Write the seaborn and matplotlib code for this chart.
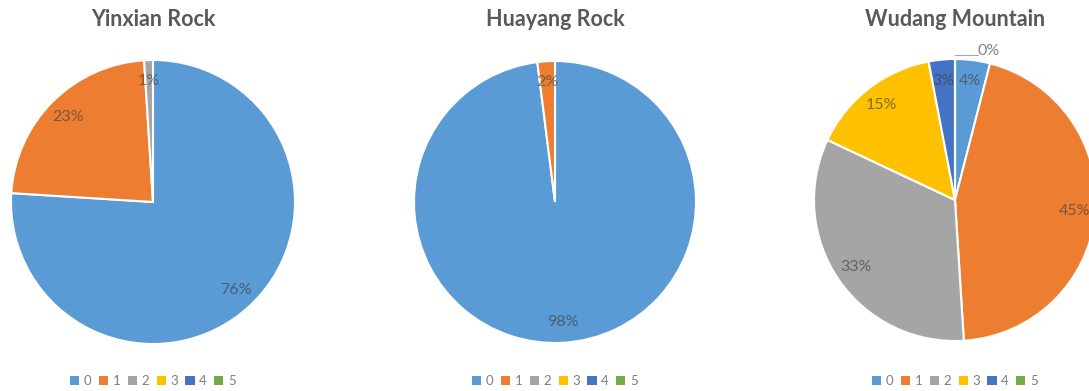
import numpy as np
import matplotlib
matplotlib.use("Agg")
import matplotlib.pyplot as plt
from matplotlib.patches import Patch
import seaborn as sns

# Share of each class (0-5) at the three sites, in percent; None = class absent
classes = ["0", "1", "2", "3", "4", "5"]
sites = ["Yinxian Rock", "Huayang Rock", "Wudang Mountain"]
yinxian = [76, 23, 1, None, None, None]
huayang = [98, 2, None, None, None, None]
wudang = [4, 45, 33, 15, 3, 0]

sns.set_theme(style="white")
plt.rcParams["font.family"] = ["Lato", "DejaVu Sans"]

palette = sns.color_palette(["#5B9BD5", "#ED7D31", "#A5A5A5",
                             "#FFC000", "#4472C4", "#70AD47"])

fig = plt.figure(figsize=(10.89, 3.91), dpi=100)
W, H = 1089, 391

# pie centre (px from left, px from top) and radius in px for each panel
panels = [(153, 202, 142), (555, 202, 141), (955, 200, 141)]

for name, values, (cx, cy, r) in zip(sites, [yinxian, huayang, wudang], panels):
    ax = fig.add_axes([(cx - r) / W, (H - cy - r) / H, 2 * r / W, 2 * r / H])
    present = [(c, v, col) for c, v, col in zip(classes, values, palette) if v is not None]
    vals = [v for _, v, _ in present]
    cols = [col for _, _, col in present]
    wedges, _ = ax.pie(vals, colors=cols, startangle=90, counterclock=False,
                       radius=1.0,
                       wedgeprops=dict(edgecolor="white", linewidth=1.5))
    ax.set_xlim(-1, 1)
    ax.set_ylim(-1, 1)
    ax.set_aspect("equal")
    ax.axis("off")

    for w, v in zip(wedges, vals):
        mid = np.deg2rad((w.theta1 + w.theta2) / 2)
        if v > 0:
            ax.text(0.85 * np.cos(mid), 0.85 * np.sin(mid), f"{v:.0f}%",
                    ha="center", va="center", fontsize=11.5,
                    color="#404040", alpha=0.65)
        else:
            # zero share: label outside with a short leader line
            x0, y0 = 1.03 * np.cos(mid), 1.03 * np.sin(mid)
            ax.plot([x0, x0 + 0.16], [y0, y0], color="#A6A6A6", lw=0.8,
                    clip_on=False)
            ax.text(x0 + 0.16, y0 + 0.03, f"{v:.0f}%", ha="left", va="center",
                    fontsize=11.5, color="#404040", alpha=0.65, clip_on=False)

    fig.text(cx / W, 1 - 19 / H, name, ha="center", va="center",
             fontsize=15.5, fontweight="bold", color="#595959")

    handles = [Patch(facecolor=col, edgecolor="none") for col in palette]
    fig.legend(handles, classes, loc="center", ncol=6,
               bbox_to_anchor=(cx / W, 10 / H), frameon=False,
               fontsize=9.5, handlelength=0.7, handleheight=0.7,
               handletextpad=0.35, columnspacing=0.55, labelcolor="#7F7F7F")

fig.savefig("out.png", dpi=100)
